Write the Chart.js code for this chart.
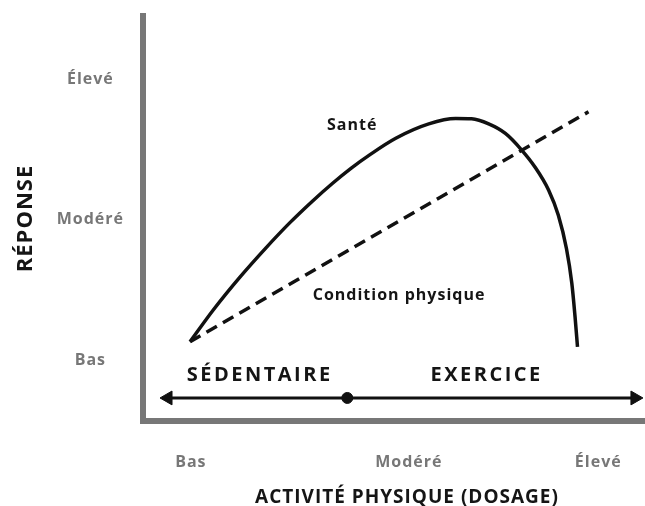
<!DOCTYPE html>
<html>
<head>
<meta charset="utf-8">
<script src="https://cdn.jsdelivr.net/npm/chart.js@4"></script>
<style>
  html, body { margin: 0; background: #fff; overflow: hidden; }
</style>
</head>
<body>
<!-- canvas a bit wider than the window: the bottom axis runs off the right edge -->
<canvas id="dose" width="680" height="506"></canvas>
<script>
// x : 0 = Bas, 100 = Élevé ; y : 0 = Bas, 100 = Élevé
const xTickValues = [0, 53.5, 100]
const xTickLabels = ['Bas', 'Modéré', 'Élevé']
const yTickValues = [0, 50, 100]
const yTickLabels = ['Bas', 'Modéré', 'Élevé']

const santeX = [-0.2, 5.5, 12.0, 18.5, 24.2, 29.9, 34.8, 39.3, 43.8, 50.3, 58.4, 65.0, 68.9, 73.1, 77.2, 81.2, 84.5, 87.8, 90.2, 92.2, 93.5, 94.3, 94.9]
const santeY = [6.5, 17.8, 29.4, 40.0, 48.7, 56.6, 62.9, 68.2, 72.9, 78.9, 84.0, 85.9, 85.8, 84.0, 80.6, 74.7, 68.6, 60.5, 51.5, 39.6, 27.4, 15.4, 4.7]

const conditionX = [-0.2, 97.6]
const conditionY = [6.5, 88.3]

// axe sédentaire / exercice
const activiteX = [-5.6, 38.4, 109.0]
const activiteY = [-13.5, -13.5, -13.5]

const labels = [
    {text: 'Santé', x: 39.6, y: 83.3, size: 16},
    {text: 'Condition physique', x: 51.1, y: 22.8, size: 16},
    {text: 'SÉDENTAIRE', x: 16.9, y: -5.6, size: 20, spacing: '2.5px'},
    {text: 'EXERCICE', x: 72.6, y: -5.6, size: 20, spacing: '2.5px'}
]

const toPoints = (xs, ys) => xs.map((x, i) => ({x: x, y: ys[i]}))

const spacing = {
    id: 'spacing',
    beforeUpdate(chart) { chart.ctx.letterSpacing = '1px' },
    beforeDraw(chart) { chart.ctx.letterSpacing = '1px' }
}

const textLabels = {
    id: 'textLabels',
    afterDatasetsDraw(chart) {
        const {ctx, scales: {x, y}} = chart
        ctx.save()
        ctx.fillStyle = '#151515'
        ctx.textAlign = 'center'
        ctx.textBaseline = 'middle'
        labels.forEach(l => {
            ctx.font = 'bold ' + l.size + 'px "Open Sans"'
            ctx.letterSpacing = l.spacing || '1px'
            ctx.fillText(l.text, x.getPixelForValue(l.x), y.getPixelForValue(l.y))
        })
        ctx.restore()
    }
}

// no extra room for edge labels, the labels sit well inside
const noEdgePadding = s => {
    s.paddingTop = 0
    s.paddingBottom = 0
    s.paddingLeft = 0
    s.paddingRight = 0
}

new Chart(document.getElementById('dose'), {
    type: 'line',
    data: {
        datasets: [
            {
                label: 'Santé',
                data: toPoints(santeX, santeY),
                borderColor: '#111',
                borderWidth: 3.5,
                pointRadius: 0,
                cubicInterpolationMode: 'monotone'
            },
            {
                label: 'Condition physique',
                data: toPoints(conditionX, conditionY),
                borderColor: '#111',
                borderWidth: 3.5,
                borderDash: [12, 7],
                pointRadius: 0
            },
            {
                label: 'Activité',
                data: toPoints(activiteX, activiteY),
                borderColor: '#111',
                backgroundColor: '#111',
                borderWidth: 3,
                pointStyle: ['triangle', 'circle', 'triangle'],
                pointRotation: [-90, 0, 90],
                pointRadius: [8, 5.5, 8],
                pointBorderWidth: 1
            }
        ]
    },
    options: {
        responsive: false,
        animation: false,
        events: [],
        layout: {padding: {top: 16, right: 0, left: 0, bottom: 0}},
        plugins: {legend: {display: false}, tooltip: {enabled: false}},
        scales: {
            x: {
                type: 'linear',
                min: -11.74,
                max: 117.85,
                afterFit: s => { s.height = 85; noEdgePadding(s) },
                afterBuildTicks: s => { s.ticks = xTickValues.map(v => ({value: v})) },
                grid: {display: false, drawTicks: false},
                border: {display: true, color: '#777', width: 6},
                ticks: {
                    autoSkip: false,
                    maxRotation: 0,
                    padding: 32,
                    color: '#777',
                    font: {family: 'Open Sans', size: 16, weight: 'bold'},
                    callback: (v, i) => xTickLabels[i]
                },
                title: {
                    display: true,
                    text: 'ACTIVITÉ PHYSIQUE (DOSAGE)',
                    color: '#151515',
                    padding: 0,
                    font: {family: 'Open Sans', size: 19, weight: 'bold', lineHeight: 0.9}
                }
            },
            y: {
                type: 'linear',
                min: -21.7,
                max: 122.4,
                afterFit: s => { s.width = 143; noEdgePadding(s) },
                afterBuildTicks: s => { s.ticks = yTickValues.map(v => ({value: v})) },
                grid: {display: false, drawTicks: false},
                border: {display: true, color: '#777', width: 6},
                ticks: {
                    crossAlign: 'center',
                    padding: 19,
                    color: '#777',
                    font: {family: 'Open Sans', size: 16, weight: 'bold'},
                    callback: (v, i) => yTickLabels[i]
                },
                title: {
                    display: true,
                    text: 'RÉPONSE',
                    color: '#151515',
                    padding: {top: 13},
                    font: {family: 'Open Sans', size: 22, weight: 'bold'}
                }
            }
        }
    },
    plugins: [spacing, textLabels]
})
</script>
</body>
</html>
